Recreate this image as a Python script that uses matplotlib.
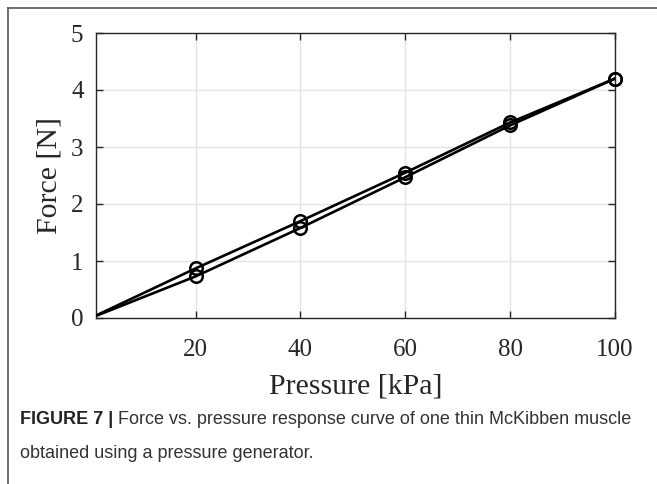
import matplotlib
matplotlib.use("Agg")
import matplotlib.pyplot as plt
from matplotlib.lines import Line2D

# Pressure set points [kPa] and measured force [N] for the two sweeps
pressure = [0, 20, 40, 60, 80, 100]
force_up = [0, 0.87, 1.70, 2.55, 3.43, 4.20]
force_down = [0, 0.73, 1.58, 2.47, 3.38, 4.20]

x_ticks = [20, 40, 60, 80, 100]
y_ticks = [0, 1, 2, 3, 4, 5]

W, H = 657, 484
fig = plt.figure(figsize=(W / 100, H / 100), dpi=100)
fig.patch.set_facecolor("white")

ax = fig.add_axes([96 / W, 1 - 318 / H, (615 - 96) / W, (318 - 33) / H])

serif = ["Liberation Serif", "DejaVu Serif"]

for f in (force_up, force_down):
    # connecting line (clipped to the axes box)
    ax.plot(pressure, f, color="black", lw=1.9, zorder=3)
    # circle markers at the measured points only
    ax.plot(pressure[1:], f[1:], ls="none", marker="o", ms=9,
            mfc="none", mec="black", mew=1.8, clip_on=False, zorder=4)

ax.set_xlim(1, 100)
ax.set_ylim(0, 5)
ax.set_xticks(x_ticks)
ax.set_yticks(y_ticks)
ax.grid(True, color="#e3e3e3", lw=1.0)
ax.set_axisbelow(True)

ax.tick_params(direction="in", length=5, width=1.0, color="#262626",
               top=True, right=True, labelsize=18, labelcolor="#262626",
               pad=9)
for lab in ax.get_xticklabels() + ax.get_yticklabels():
    lab.set_family(serif)
ax.tick_params(axis="x", pad=15)

for s in ax.spines.values():
    s.set_color("#262626")
    s.set_linewidth(1.0)

ax.set_xlabel("Pressure [kPa]", family=serif, fontsize=21.5, color="#262626",
              labelpad=9)
ax.set_ylabel("Force [N]", family=serif, fontsize=21.5, color="#262626",
              labelpad=6)

# Page frame around the figure panel
fig.add_artist(Line2D([8 / W, 8 / W], [0, 1 - 8 / H], transform=fig.transFigure,
                      color="#555555", lw=1.2))
fig.add_artist(Line2D([8 / W, 1], [1 - 8 / H, 1 - 8 / H], transform=fig.transFigure,
                      color="#555555", lw=1.2))

# Caption
sans = ["Liberation Sans", "DejaVu Sans"]
t1 = fig.text(20 / W, 1 - 419 / H, "FIGURE 7 |", family=sans, fontsize=13,
              fontweight="bold", color="#222222", va="center", ha="left")
fig.canvas.draw()
bb = t1.get_window_extent()
fig.text((bb.x1 + 5) / W, 1 - 419 / H,
         "Force vs. pressure response curve of one thin McKibben muscle",
         family=sans, fontsize=13, color="#333333", va="center", ha="left")
fig.text(20 / W, 1 - 453 / H, "obtained using a pressure generator.",
         family=sans, fontsize=13, color="#333333", va="center", ha="left")

fig.savefig("out.png", dpi=100)
